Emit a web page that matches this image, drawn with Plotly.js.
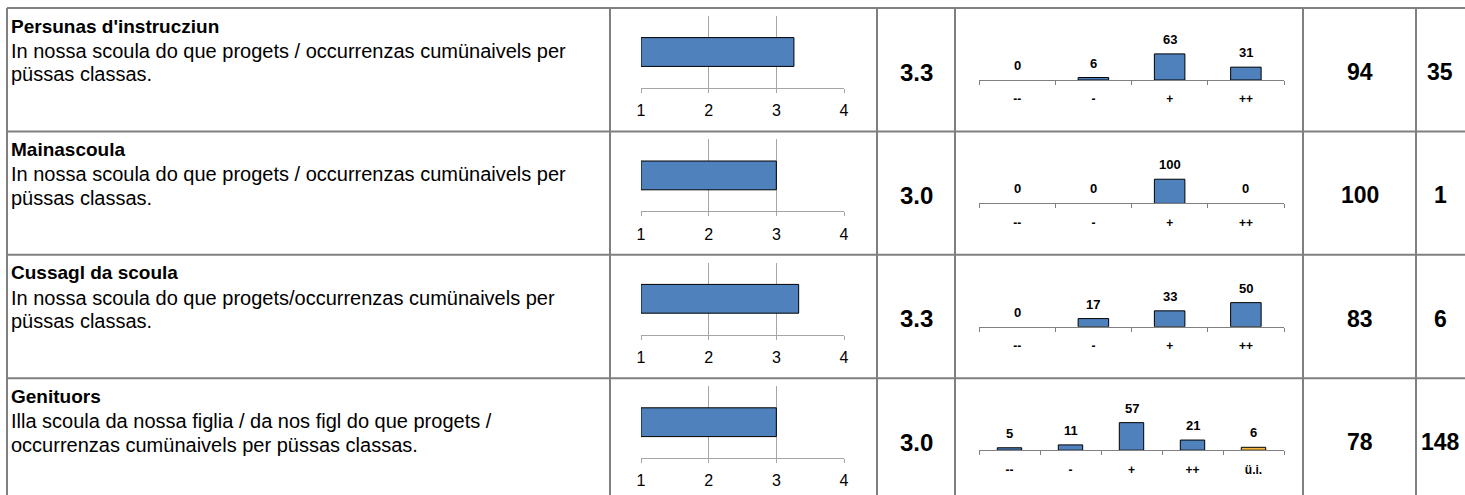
<!DOCTYPE html>
<html><head><meta charset="utf-8">
<script src="https://cdn.plot.ly/plotly-3.0.1.min.js"></script>
<style>html,body{margin:0;padding:0;background:#fff}</style>
</head><body><div id="chart" style="width:1465px;height:495px"></div>
<script>
// ---- data ----
const titles = ["Persunas d'instrucziun", "Mainascoula", "Cussagl da scoula", "Genituors"];
const descriptionLines = [
  ["In nossa scoula do que progets / occurrenzas cumünaivels per", "püssas classas."],
  ["In nossa scoula do que progets / occurrenzas cumünaivels per", "püssas classas."],
  ["In nossa scoula do que progets/occurrenzas cumünaivels per", "püssas classas."],
  ["Illa scoula da nossa figlia / da nos figl do que progets /", "occurrenzas cumünaivels per püssas classas."]
];
const means = [3.26, 3.0, 3.33, 3.0];
const meanTicks = [1, 2, 3, 4];
const catLabels4 = ["--", "-", "+", "++"];
const catLabels5 = ["--", "-", "+", "++", "ü.i."];
const distPersunas = [0, 6, 63, 31];
const distMainascoula = [0, 0, 100, 0];
const distCussagl = [0, 17, 33, 50];
const distGenituors = [5, 11, 57, 21, 6];
const pctPositive = [94, 100, 83, 78];
const nCounts = [35, 1, 6, 148];

// ---- layout helpers ----
const W = 1465, H = 495;
const FONT = "Liberation Sans, Arial, sans-serif";
const px = x => x / W;
const py = y => 1 - y / H;
const rowTop = i => 8 + i * 123.4;
const distSets = [
  {cats: catLabels4, vals: distPersunas},
  {cats: catLabels4, vals: distMainascoula},
  {cats: catLabels4, vals: distCussagl},
  {cats: catLabels5, vals: distGenituors}
];
const distAxisMax = [70, 120, 60, 60];
const BLUE = '#4F81BD', GOLD = '#F5B841', GRID = '#808080';

const traces = [];
const layout = {
  width: W, height: H, margin: {l: 0, r: 0, t: 0, b: 0},
  paper_bgcolor: '#fff', plot_bgcolor: 'rgba(0,0,0,0)',
  showlegend: false, font: {family: FONT, color: '#000'},
  shapes: [], annotations: []
};

for (let i = 0; i < 4; i++) {
  const top = rowTop(i);
  const km = i + 1, kd = i + 5;
  // mean bar chart
  layout['xaxis' + km] = {
    domain: [px(641), px(844)], range: [1, 4], tickvals: meanTicks,
    showgrid: true, gridcolor: '#A6A6A6', gridwidth: 1,
    showline: true, linecolor: '#A6A6A6', linewidth: 1,
    ticks: 'outside', ticklen: 4, tickcolor: '#A6A6A6', ticklabelstandoff: 4,
    tickfont: {size: 16, family: FONT, color: '#000'}, zeroline: false,
    anchor: 'y' + km, fixedrange: true
  };
  layout['yaxis' + km] = {
    domain: [py(top + 80), py(top + 8)], range: [-0.5, 0.5], visible: false,
    anchor: 'x' + km, fixedrange: true
  };
  traces.push({
    type: 'bar', orientation: 'h', y: [0], x: [means[i] - 1], base: 1, width: 0.4,
    marker: {color: BLUE, line: {color: '#000', width: 1}},
    xaxis: 'x' + km, yaxis: 'y' + km, hoverinfo: 'skip'
  });

  // distribution chart
  const ds = distSets[i];
  layout['xaxis' + kd] = {
    domain: [px(979), px(1284)], type: 'category', categoryorder: 'array', categoryarray: ds.cats,
    range: [-0.5, ds.cats.length - 0.5],
    showline: true, linecolor: GRID, linewidth: 1, showgrid: false,
    ticks: 'outside', tickson: 'boundaries', ticklen: 4, tickcolor: GRID, ticklabelstandoff: 8,
    tickfont: {size: 12, family: FONT, color: '#000', weight: 'bold'},
    anchor: 'y' + kd, fixedrange: true
  };
  layout['yaxis' + kd] = {
    domain: [py(top + 72), py(top + 72 - 29)], range: [0, distAxisMax[i]], visible: false,
    anchor: 'x' + kd, fixedrange: true
  };
  traces.push({
    type: 'bar', x: ds.cats, y: ds.vals, width: 0.4, cliponaxis: false,
    marker: {
      color: ds.cats.map(c => c === 'ü.i.' ? GOLD : BLUE),
      line: {color: '#000', width: ds.vals.map(v => v > 0 ? 1 : 0)}
    },
    xaxis: 'x' + kd, yaxis: 'y' + kd, hoverinfo: 'skip'
  });
  ds.cats.forEach((c, j) => {
    layout.annotations.push({
      xref: 'x' + kd, yref: 'y' + kd, x: c, y: ds.vals[j], text: String(ds.vals[j]),
      showarrow: false, xanchor: 'center', yanchor: 'bottom', yshift: 5,
      font: {size: 13, family: FONT, color: '#000', weight: 'bold'}
    });
  });

  // texts
  layout.annotations.push({
    xref: 'paper', yref: 'paper', x: px(9), y: py(top + 18), xanchor: 'left', yanchor: 'middle',
    text: '<b>' + titles[i] + '</b>', showarrow: false, align: 'left',
    font: {size: 19, family: FONT, color: '#000'}
  });
  descriptionLines[i].forEach((line, j) => {
    layout.annotations.push({
      xref: 'paper', yref: 'paper', x: px(9), y: py(top + 43 + j * 23.5), xanchor: 'left', yanchor: 'middle',
      text: line, showarrow: false, align: 'left',
      font: {size: 20, family: FONT, color: '#000'}
    });
  });
  layout.annotations.push({
    xref: 'paper', yref: 'paper', x: px(916), y: py(top + 64), xanchor: 'center', yanchor: 'middle',
    text: '<b>' + means[i].toFixed(1) + '</b>', showarrow: false,
    font: {size: 24, family: FONT, color: '#000'}
  });
  layout.annotations.push({
    xref: 'paper', yref: 'paper', x: px(1360), y: py(top + 64), xanchor: 'center', yanchor: 'middle',
    text: '<b>' + pctPositive[i] + '</b>', showarrow: false,
    font: {size: 23, family: FONT, color: '#000'}
  });
  layout.annotations.push({
    xref: 'paper', yref: 'paper', x: px(1440), y: py(top + 64), xanchor: 'center', yanchor: 'middle',
    text: '<b>' + nCounts[i] + '</b>', showarrow: false,
    font: {size: 23, family: FONT, color: '#000'}
  });

  // horizontal row border
  layout.shapes.push({type: 'line', xref: 'paper', yref: 'paper',
    x0: px(7), x1: 1, y0: py(top), y1: py(top), line: {color: GRID, width: 2}});
}
[7, 610, 877, 955, 1303, 1416].forEach(x => {
  layout.shapes.push({type: 'line', xref: 'paper', yref: 'paper',
    x0: px(x), x1: px(x), y0: py(8), y1: 0, line: {color: GRID, width: 2}});
});

Plotly.newPlot('chart', traces, layout, {displayModeBar: false, staticPlot: true});
</script>
</body></html>
